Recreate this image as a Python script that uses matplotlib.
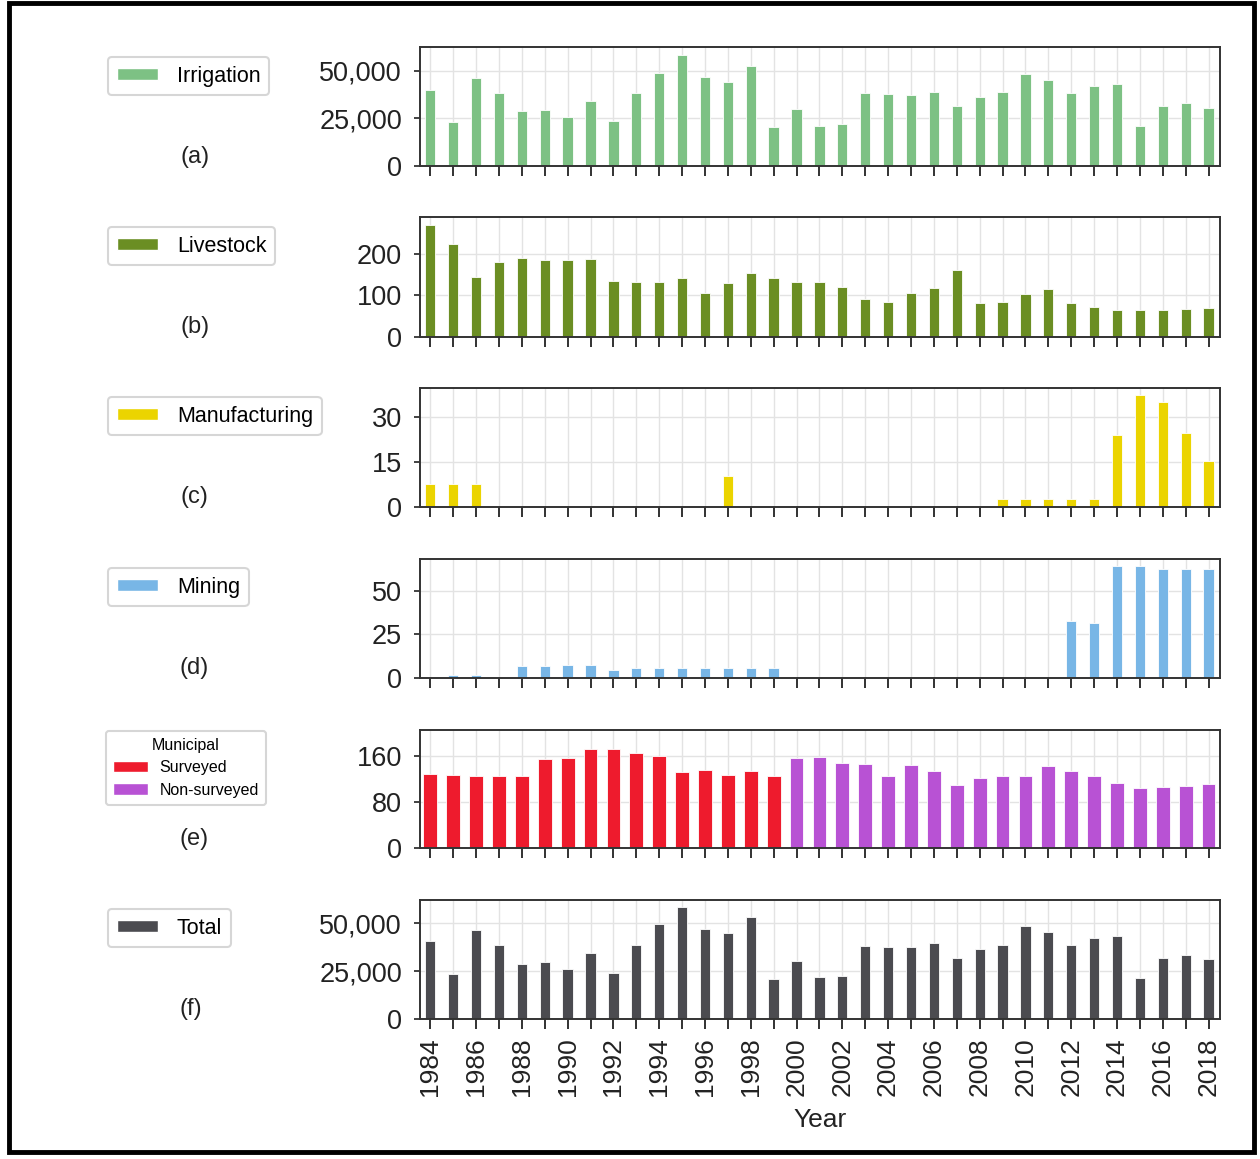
import matplotlib
matplotlib.use("Agg")
import matplotlib.pyplot as plt
from matplotlib.patches import Patch, Rectangle
from matplotlib.ticker import FuncFormatter
import numpy as np

plt.rcParams['font.family'] = ['Liberation Sans', 'DejaVu Sans']

years = list(range(1984, 2019))

irrigation = [40200, 23200, 46300, 38250, 28800, 29650, 25600, 34000, 23500, 38250,
              49100, 58400, 46700, 44400, 52800, 20350, 29800, 21200, 22100, 38250,
              37700, 37200, 39100, 31750, 36100, 38800, 48600, 45300, 38250, 41900,
              43300, 20900, 31400, 33200, 30700]

livestock = [268, 223, 144, 179, 190, 186, 185, 188, 135, 132,
             131, 141, 106, 129, 154, 141, 132, 131, 119, 92,
             83, 106, 117, 160, 81, 85, 104, 115, 81, 73,
             65, 65, 65, 67, 70]

manufacturing = [7.5, 7.5, 7.5, 0, 0, 0, 0, 0, 0, 0,
                 0, 0, 0, 10.2, 0, 0, 0, 0, 0, 0,
                 0, 0, 0, 0, 0, 2.5, 2.5, 2.5, 2.5, 2.5,
                 24.0, 37.3, 34.8, 24.6, 15.3]

mining = [0, 1.5, 1.5, 0, 6.6, 6.6, 7.6, 7.6, 4.7, 5.7,
          5.7, 5.7, 5.7, 5.7, 5.7, 5.7, 0, 0, 0, 0,
          0, 0, 0, 0, 0, 0, 0, 0, 32.6, 31.4,
          64.1, 64.1, 62.5, 62.5, 62.5]

municipal_surveyed = [130, 127.5, 126, 126, 126, 155, 157, 172, 172, 166.5,
                      160.6, 133.4, 137, 128, 134.6, 125.8]
municipal_nonsurveyed = [157, 158, 148, 146, 126, 145, 135, 110, 123, 125,
                         126, 143.5, 135, 126, 113, 104, 107, 109, 111]

total = [40700, 23400, 46400, 38600, 28900, 30000, 26400, 34800, 23900, 38600,
         49600, 58750, 47100, 44800, 53400, 20700, 30200, 21800, 22300, 38200,
         37500, 37500, 39600, 32100, 36600, 38900, 48900, 45500, 38600, 42300,
         43600, 21250, 31800, 33600, 31250]

W, H = 1260, 1159
fig = plt.figure(figsize=(W / 100, H / 100), dpi=100)

left = 420 / W
width = (1220 - 420) / W
panels = [(47, 166), (217, 337), (388, 507), (559, 678), (730, 848), (900, 1019)]

x = np.arange(len(years))
n_s = len(municipal_surveyed)

specs = [
    dict(vals=irrigation, color='#7DC184', label='Irrigation', ticks=[0, 25000, 50000], ylim=62600, tag='(a)', w=0.45),
    dict(vals=livestock, color='#6B8E23', label='Livestock', ticks=[0, 100, 200], ylim=288, tag='(b)', w=0.45),
    dict(vals=manufacturing, color='#EBD400', label='Manufacturing', ticks=[0, 15, 30], ylim=39.6, tag='(c)', w=0.45),
    dict(vals=mining, color='#78B6E6', label='Mining', ticks=[0, 25, 50], ylim=68, tag='(d)', w=0.45),
    None,
    dict(vals=total, color='#4B4B50', label='Total', ticks=[0, 25000, 50000], ylim=62300, tag='(f)', w=0.45),
]

legend_pos = [(108, 57), (108, 227), (108, 397), (108, 568), (106, 731), (108, 909)]
tag_pos = [(195, 157), (195, 327), (194, 497), (194, 668), (194, 839), (191, 1009)]

comma = FuncFormatter(lambda v, p: f"{int(v):,}")

for i, (top, bot) in enumerate(panels):
    ax = fig.add_axes([left, 1 - bot / H, width, (bot - top) / H])
    ax.set_axisbelow(True)
    ax.grid(True, color='#E3E3E3', linewidth=1.0)
    if i == 4:
        ax.bar(x[:n_s], municipal_surveyed, width=0.6, color='#EE1B2D', edgecolor='white', linewidth=0.6)
        ax.bar(x[n_s:], municipal_nonsurveyed, width=0.6, color='#B852D4', edgecolor='white', linewidth=0.6)
        ax.set_ylim(0, 206)
        ax.set_yticks([0, 80, 160])
        handles = [Patch(facecolor='#EE1B2D', edgecolor='white'), Patch(facecolor='#B852D4', edgecolor='white')]
        leg = fig.legend(handles, ['Surveyed', 'Non-surveyed'], title='Municipal',
                         loc='upper left', bbox_to_anchor=(legend_pos[i][0] / W, 1 - legend_pos[i][1] / H),
                         borderaxespad=0, fontsize=11.5, title_fontsize=11.5, frameon=True,
                         fancybox=True, edgecolor='#CCCCCC', handlelength=2.2, handleheight=0.7,
                         labelspacing=0.45, borderpad=0.45, handletextpad=0.7)
    else:
        s = specs[i]
        ax.bar(x, s['vals'], width=s['w'], color=s['color'], edgecolor='white', linewidth=0.6)
        ax.set_ylim(0, s['ylim'])
        ax.set_yticks(s['ticks'])
        if s['ticks'][-1] >= 1000:
            ax.yaxis.set_major_formatter(comma)
        handles = [Patch(facecolor=s['color'], edgecolor='white')]
        leg = fig.legend(handles, [s['label']], loc='upper left',
                         bbox_to_anchor=(legend_pos[i][0] / W, 1 - legend_pos[i][1] / H),
                         borderaxespad=0, fontsize=15.5, frameon=True, fancybox=True,
                         edgecolor='#CCCCCC', handlelength=1.9, handleheight=0.55,
                         borderpad=0.4, handletextpad=0.9)
    leg.get_frame().set_linewidth(1.5)
    fig.text(tag_pos[i][0] / W, 1 - tag_pos[i][1] / H, specs[i]['tag'] if specs[i] else '(e)',
             ha='center', va='center', fontsize=17, color='#222222')

    ax.set_xlim(-0.45, len(years) - 0.5)
    ax.set_xticks(x)
    for sp in ax.spines.values():
        sp.set_color('#333333')
        sp.set_linewidth(1.4)
    ax.tick_params(axis='x', direction='out', length=7, width=1.3, color='#222222', labelsize=19, pad=6)
    ax.tick_params(axis='y', direction='out', length=4, width=1.2, color='#222222', labelsize=19.5, pad=9)
    for lab in ax.get_yticklabels():
        lab.set_color('#222222')
    if i == 5:
        ax.set_xticklabels([str(y) if y % 2 == 0 else '' for y in years], rotation=90, color='#222222')
        ax.set_xlabel('Year', fontsize=19, color='#222222', labelpad=9)
    else:
        ax.set_xticklabels([])

frame = Rectangle((9 / W, 7 / H), (1254 - 9) / W, (1156 - 7) / H, transform=fig.transFigure,
                  fill=False, edgecolor='black', linewidth=3.5)
fig.patches.append(frame)

fig.savefig('out.png', dpi=100, facecolor='white')
